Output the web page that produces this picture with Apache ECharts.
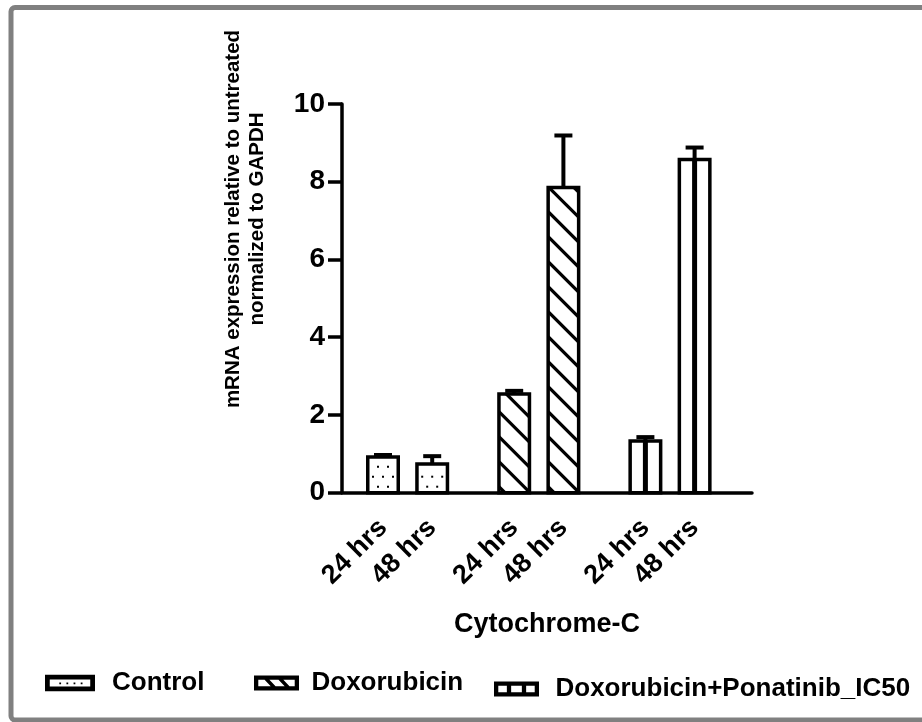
<!DOCTYPE html>
<html>
<head>
<meta charset="utf-8">
<title>Cytochrome-C</title>
<script src="https://cdn.jsdelivr.net/npm/echarts@6/dist/echarts.min.js"></script>
<style>
html, body { margin: 0; padding: 0; background: #fff; }
#main { width: 922px; height: 722px; }
</style>
</head>
<body>
<div id="main"></div>
<script>
// x slots: empty strings are the gaps between the three treatment groups
var slots = ['', '', '24 hrs', '', '', '48 hrs', '', '', '', '',
    '24 hrs', '', '', '48 hrs', '', '', '', '',
    '24 hrs', '', '', '48 hrs', '', '', ''];
var seriesNames = ['Control', 'Doxorubicin', 'Doxorubicin+Ponatinib_IC50'];
var controlSlots = [2, 5];
var doxSlots = [10, 13];
var ponSlots = [18, 21];
var controlMean = [0.92, 0.74];
var controlErr = [0.05, 0.20];
var doxMean = [2.54, 7.85];
var doxErr = [0.08, 1.34];
var ponMean = [1.33, 8.57];
var ponErr = [0.10, 0.31];
var yTicks = [0, 2, 4, 6, 8, 10];

var FONT = '"Liberation Sans", Arial, sans-serif';
var BAR_W = 30.5;
var OUTLINE = 3.5;

function rows (slotIdx, mean, err) {
    return slotIdx.map(function (s, i) {
        return [s, mean[i], err[i]];
    });
}

function makeRender (kind) {
    return function (params, api) {
        var x = api.value(0);
        var v = api.value(1);
        var e = api.value(2);
        var base = api.coord([x, 0]);
        var top = api.coord([x, v]);
        var errTop = api.coord([x, v + e]);
        var cx = base[0];
        var x0 = cx - BAR_W / 2;
        var x1 = cx + BAR_W / 2;
        var y0 = top[1];
        var y1 = base[1];
        var kids = [];
        kids.push({ type: 'rect', shape: { x: x0, y: y0, width: BAR_W, height: y1 - y0 }, style: { fill: '#fff' } });

        if (kind === 'dots') {
            for (var r = 0; ; r++) {
                var yy = y1 - 6 - r * 10;
                if (yy < y0 + 4) break;
                var offs = r % 2 === 0 ? [-5, 5] : [-10, 0, 10];
                offs.forEach(function (o) {
                    kids.push({ type: 'rect', shape: { x: cx + o - 1, y: yy - 1, width: 2, height: 2 }, style: { fill: '#000' } });
                });
            }
        } else if (kind === 'hatch') {
            // lines y = x + c, going down to the right
            for (var c = y1 - x0 - 6; c > y0 - x1; c -= 25) {
                var lo = Math.max(x0, y0 - c);
                var hi = Math.min(x1, y1 - c);
                if (hi - lo < 1) continue;
                kids.push({ type: 'line', shape: { x1: lo, y1: lo + c, x2: hi, y2: hi + c }, style: { stroke: '#000', lineWidth: 3.2 } });
            }
        } else if (kind === 'vline') {
            kids.push({ type: 'line', shape: { x1: cx, y1: y0, x2: cx, y2: y1 }, style: { stroke: '#000', lineWidth: 5 } });
        }

        // error bar (upper only)
        kids.push({ type: 'line', shape: { x1: cx, y1: y0, x2: cx, y2: errTop[1] }, style: { stroke: '#000', lineWidth: 4 } });
        kids.push({ type: 'line', shape: { x1: cx - 9, y1: errTop[1], x2: cx + 9, y2: errTop[1] }, style: { stroke: '#000', lineWidth: 4 } });
        kids.push({ type: 'rect', shape: { x: x0, y: y0, width: BAR_W, height: y1 - y0 }, style: { fill: 'none', stroke: '#000', lineWidth: OUTLINE } });
        return { type: 'group', children: kids };
    };
}

// legend icons: black frame with a hole, plus the fill motif
var FRAME = 'M0 0 L42 0 L42 14 L0 14 Z M4 4 L4 10 L38 10 L38 4 Z ';
var ICON_DOTS = 'path://' + FRAME +
    'M12 6.5 L13.5 6.5 L13.5 8 L12 8 Z M18 6.5 L19.5 6.5 L19.5 8 L18 8 Z ' +
    'M24 6.5 L25.5 6.5 L25.5 8 L24 8 Z M30 6.5 L31.5 6.5 L31.5 8 L30 8 Z';
var ICON_HATCH = 'path://' + FRAME +
    'M9 3 L13.5 3 L21 11 L16.5 11 Z M22 3 L26.5 3 L34 11 L29.5 11 Z';
var ICON_VLINE = 'path://' + FRAME +
    'M12 3 L16 3 L16 11 L12 11 Z M26 3 L30 3 L30 11 L26 11 Z';

function showSlot (idx, val) {
    return val !== '';
}

function legendItem (name, icon, left, top, w, h, gap) {
    return {
        left: left,
        top: top,
        itemWidth: w,
        itemHeight: h,
        selectedMode: false,
        itemStyle: { borderWidth: 0 },
        textStyle: {
            fontFamily: FONT,
            fontSize: 26,
            fontWeight: 'bold',
            color: '#000',
            padding: [0, 0, 0, gap]
        },
        data: [{ name: name, icon: icon }]
    };
}

var chart = echarts.init(document.getElementById('main'));
chart.setOption({
    backgroundColor: '#fff',
    animation: false,
    grid: {
        left: 342,
        top: 104,
        width: 410,
        bottom: 229.3,
        outerBoundsMode: 'none'
    },
    legend: [
        legendItem(seriesNames[0], ICON_DOTS, 40, 665, 50, 17, 12),
        legendItem(seriesNames[1], ICON_HATCH, 249, 665, 46, 15, 7),
        legendItem(seriesNames[2], ICON_VLINE, 489, 671, 46, 15, 11)
    ],
    xAxis: {
        type: 'category',
        data: slots,
        boundaryGap: true,
        name: 'Cytochrome-C',
        nameLocation: 'middle',
        nameGap: 118,
        nameTextStyle: { fontFamily: FONT, fontSize: 27, fontWeight: 'bold', color: '#000' },
        axisLine: { lineStyle: { color: '#000', width: 3.5 } },
        axisTick: {
            alignWithLabel: true,
            interval: showSlot,
            length: 14,
            lineStyle: { color: '#000', width: 3.5 }
        },
        axisLabel: {
            interval: showSlot,
            rotate: 45,
            margin: 31,
            fontFamily: FONT,
            fontSize: 27,
            fontWeight: 'bold',
            color: '#000'
        },
        splitLine: { show: false }
    },
    yAxis: {
        type: 'value',
        min: yTicks[0],
        max: yTicks[yTicks.length - 1],
        interval: yTicks[1] - yTicks[0],
        axisLine: { show: true, lineStyle: { color: '#000', width: 3.5 } },
        axisTick: { show: true, length: 14, lineStyle: { color: '#000', width: 3.5 } },
        axisLabel: {
            margin: 17,
            fontFamily: FONT,
            fontSize: 28,
            fontWeight: 'bold',
            color: '#000'
        },
        splitLine: { show: false }
    },
    series: [
        {
            name: seriesNames[0], type: 'custom', itemStyle: { color: '#000' },
            renderItem: makeRender('dots'), encode: { x: 0, y: 1 },
            data: rows(controlSlots, controlMean, controlErr)
        },
        {
            name: seriesNames[1], type: 'custom', itemStyle: { color: '#000' },
            renderItem: makeRender('hatch'), encode: { x: 0, y: 1 },
            data: rows(doxSlots, doxMean, doxErr)
        },
        {
            name: seriesNames[2], type: 'custom', itemStyle: { color: '#000' },
            renderItem: makeRender('vline'), encode: { x: 0, y: 1 },
            data: rows(ponSlots, ponMean, ponErr)
        }
    ],
    graphic: [
        {
            type: 'rect',
            shape: { x: 11, y: 7.5, width: 1000, height: 712.5, r: 4 },
            style: { fill: 'none', stroke: '#808080', lineWidth: 5 },
            silent: true
        },
        {
            type: 'text',
            x: 245,
            y: 219,
            rotation: Math.PI / 2,
            style: {
                text: 'mRNA expression relative to untreated\nnormalized to GAPDH',
                fontFamily: FONT,
                fontSize: 20.5,
                fontWeight: 'bold',
                lineHeight: 24,
                fill: '#000',
                align: 'center',
                verticalAlign: 'middle'
            }
        }
    ]
});
</script>
</body>
</html>
